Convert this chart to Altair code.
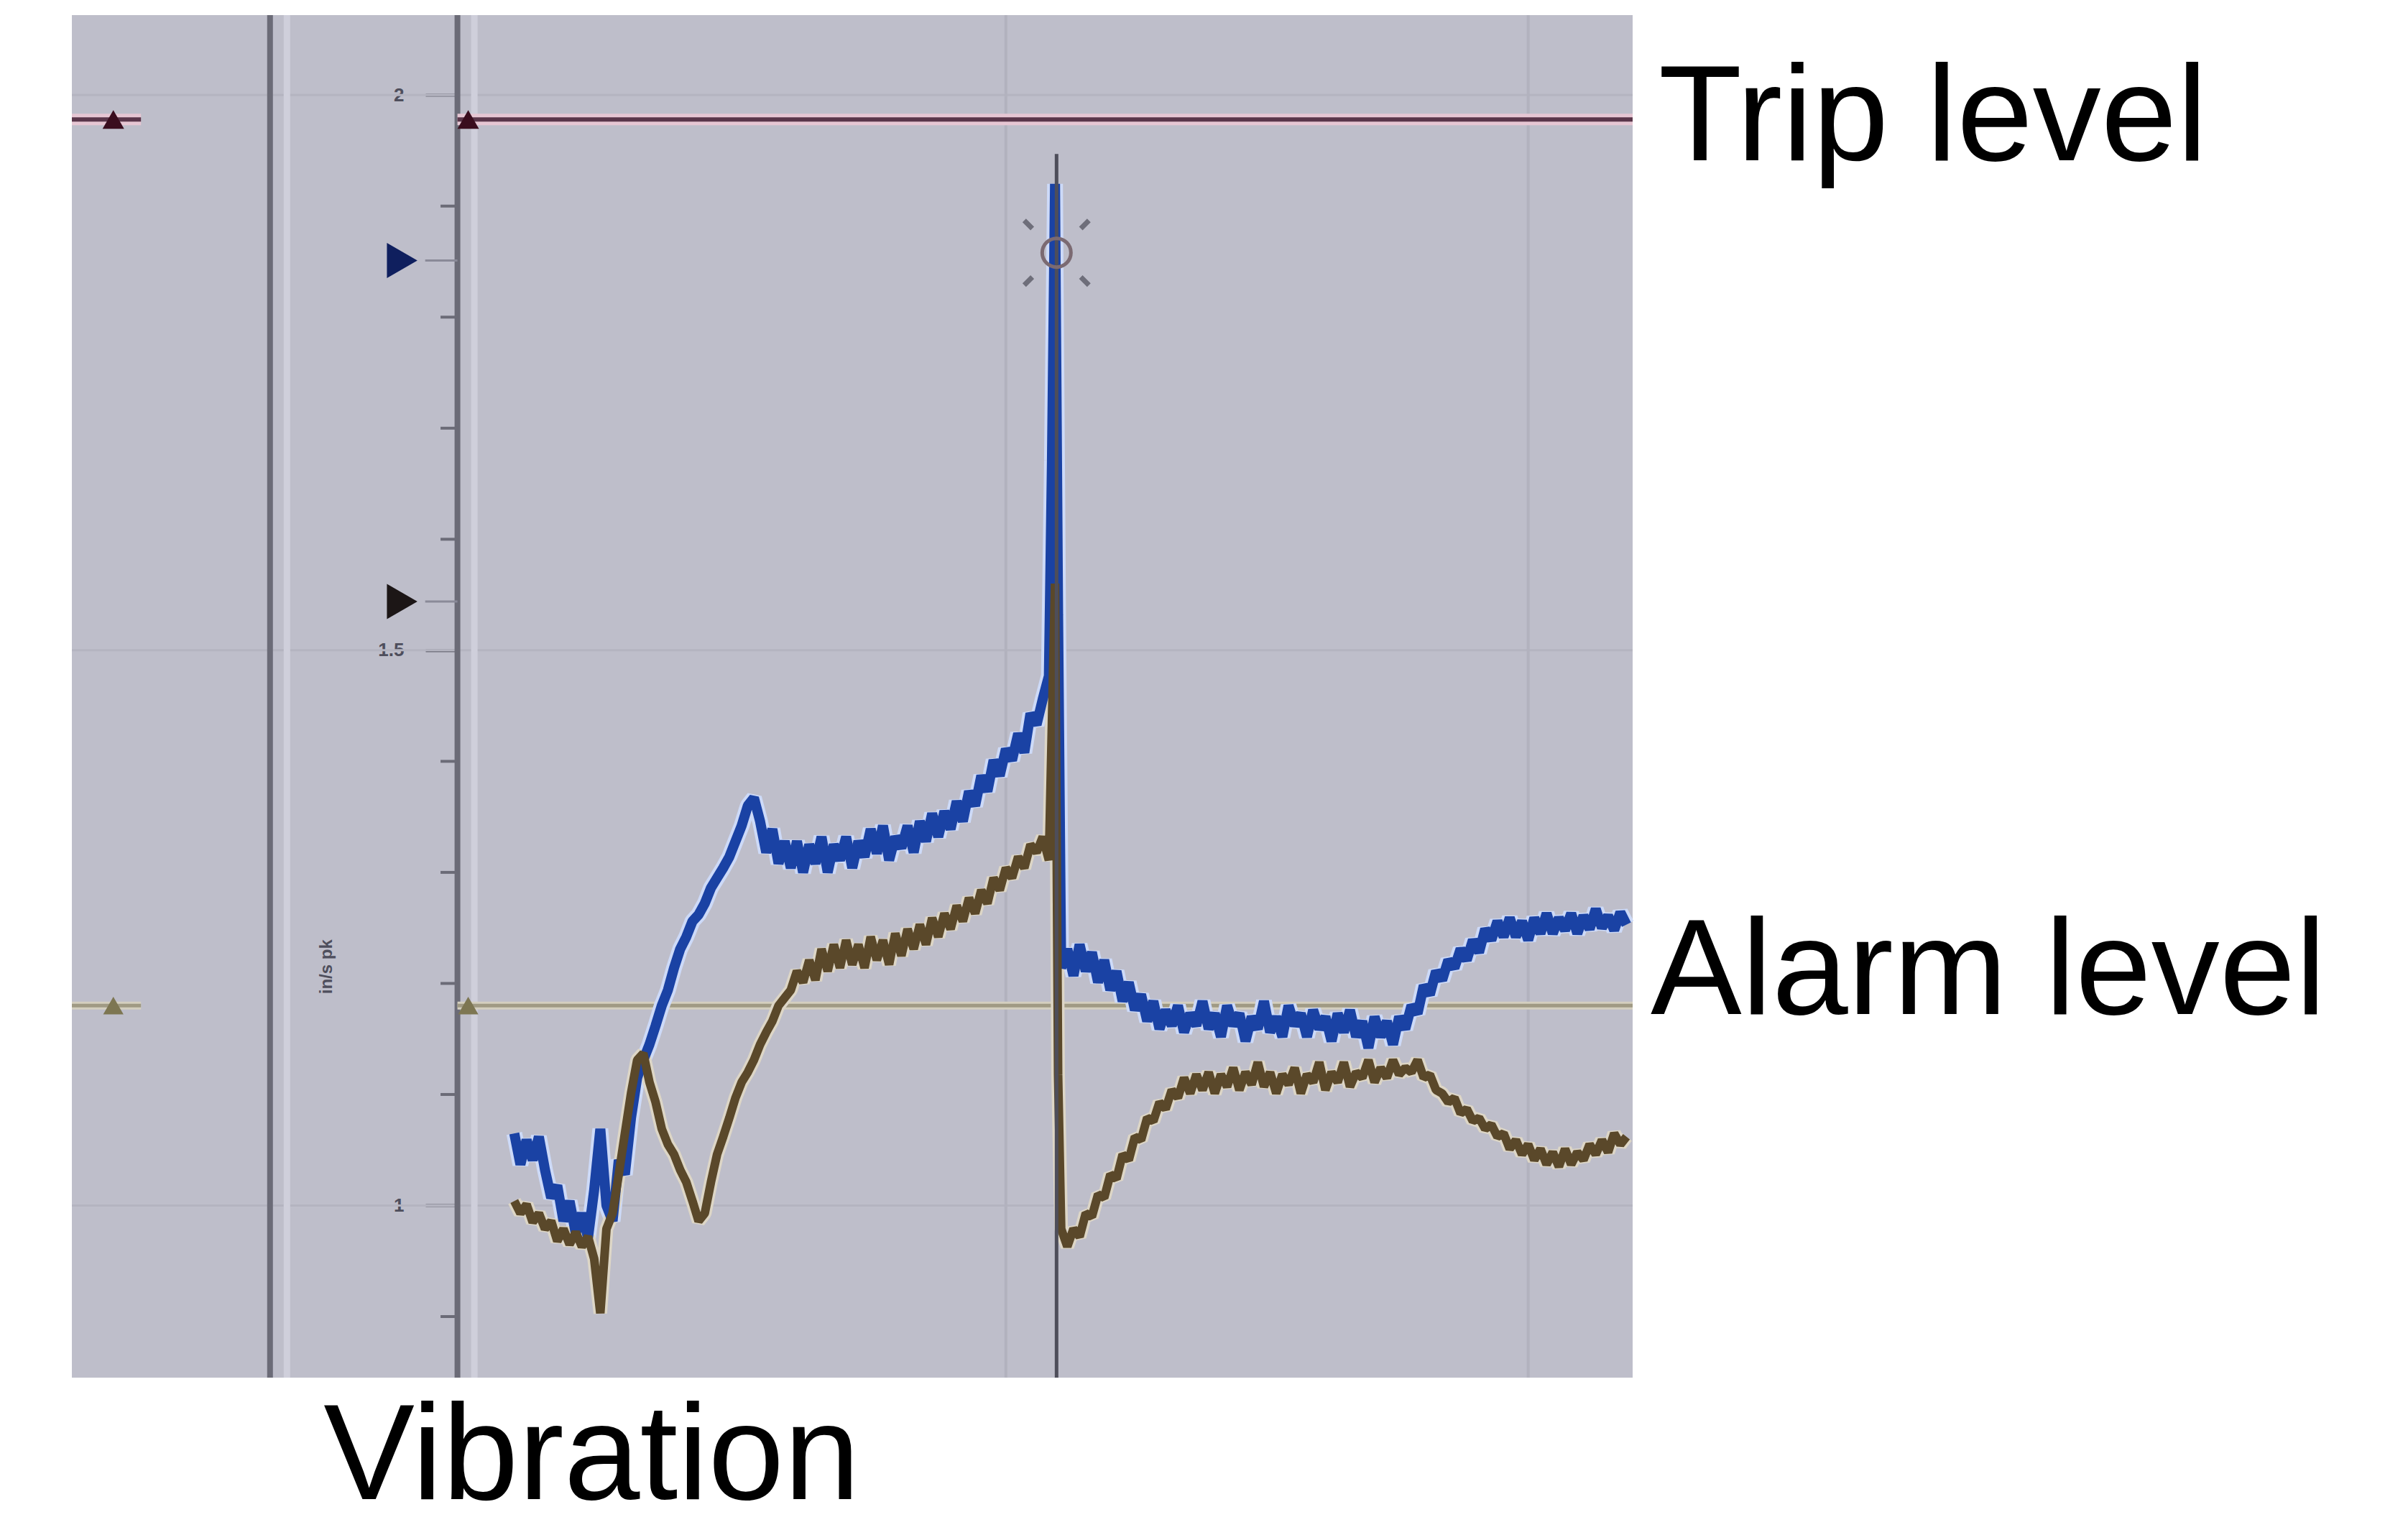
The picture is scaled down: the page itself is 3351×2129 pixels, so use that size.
import altair as alt
import pandas as pd

# ---------------- data ----------------
# sample index along the time axis (the panel spans samples 47 .. 1063)
sample = list(range(335, 683, 4)) + [683, 685, 687, 689, 691] + list(range(695, 1063, 4))

# overall vibration (blue trace)
overall = [
    1.065, 1.037, 1.059, 1.041, 1.062, 1.032, 1.007, 1.018, 0.986, 1.004,
    0.975, 0.993, 0.971, 1.014, 1.069, 1.000, 0.986, 1.041, 1.028, 1.079,
    1.115, 1.131, 1.145, 1.162, 1.180, 1.194, 1.214, 1.231, 1.242, 1.256,
    1.262, 1.272, 1.286, 1.295, 1.304, 1.314, 1.328, 1.342, 1.360, 1.367,
    1.346, 1.318, 1.339, 1.308, 1.328, 1.304, 1.328, 1.300, 1.325, 1.308,
    1.332, 1.300, 1.325, 1.311, 1.332, 1.304, 1.328, 1.314, 1.339, 1.317,
    1.342, 1.311, 1.332, 1.322, 1.342, 1.318, 1.346, 1.328, 1.353, 1.332,
    1.355, 1.339, 1.364, 1.346, 1.373, 1.360, 1.387, 1.373, 1.401, 1.387,
    1.411, 1.401, 1.425, 1.408, 1.443, 1.433, 1.456,
    1.477, 1.671, 1.920, 1.532, 1.214,
    1.231, 1.207, 1.235, 1.211, 1.228, 1.201, 1.221, 1.194, 1.211, 1.184,
    1.201, 1.176, 1.190, 1.166, 1.184, 1.159, 1.176, 1.162, 1.180, 1.156,
    1.173, 1.162, 1.184, 1.159, 1.173, 1.152, 1.180, 1.162, 1.173, 1.148,
    1.170, 1.159, 1.184, 1.156, 1.170, 1.152, 1.180, 1.162, 1.173, 1.152,
    1.176, 1.159, 1.170, 1.148, 1.173, 1.156, 1.176, 1.152, 1.166, 1.142,
    1.170, 1.152, 1.166, 1.145, 1.170, 1.159, 1.180, 1.173, 1.198, 1.190,
    1.211, 1.203, 1.221, 1.214, 1.231, 1.221, 1.239, 1.228, 1.249, 1.239,
    1.256, 1.242, 1.259, 1.242, 1.256, 1.239, 1.259, 1.245, 1.263, 1.245,
    1.259, 1.248, 1.263, 1.245, 1.261, 1.249, 1.267, 1.250, 1.261, 1.248,
    1.264, 1.253,
]

# filtered vibration (brown trace)
filtered = [
    1.004, 0.993, 1.001, 0.985, 0.993, 0.979, 0.986, 0.968, 0.979, 0.965,
    0.976, 0.963, 0.972, 0.952, 0.903, 0.979, 0.993, 1.028, 1.065, 1.101,
    1.131, 1.137, 1.111, 1.093, 1.069, 1.055, 1.046, 1.032, 1.021, 1.004,
    0.986, 0.993, 1.021, 1.046, 1.062, 1.079, 1.097, 1.111, 1.120, 1.131,
    1.145, 1.156, 1.166, 1.180, 1.187, 1.194, 1.211, 1.201, 1.221, 1.203,
    1.231, 1.211, 1.235, 1.214, 1.239, 1.217, 1.235, 1.214, 1.242, 1.221,
    1.239, 1.217, 1.245, 1.225, 1.249, 1.231, 1.253, 1.235, 1.259, 1.242,
    1.263, 1.249, 1.270, 1.256, 1.277, 1.263, 1.284, 1.272, 1.295, 1.284,
    1.304, 1.295, 1.314, 1.304, 1.325, 1.318, 1.332,
    1.311, 1.436, 1.560, 1.118, 0.979,
    0.963, 0.979, 0.972, 0.993, 0.990, 1.010, 1.007, 1.028, 1.024, 1.046,
    1.041, 1.062, 1.059, 1.079, 1.076, 1.093, 1.087, 1.104, 1.097, 1.115,
    1.101, 1.118, 1.104, 1.120, 1.101, 1.118, 1.107, 1.124, 1.104, 1.120,
    1.109, 1.129, 1.107, 1.120, 1.101, 1.118, 1.109, 1.124, 1.101, 1.118,
    1.111, 1.129, 1.104, 1.120, 1.111, 1.129, 1.107, 1.120, 1.115, 1.131,
    1.111, 1.124, 1.115, 1.131, 1.118, 1.124, 1.120, 1.131, 1.115, 1.118,
    1.104, 1.101, 1.093, 1.097, 1.083, 1.087, 1.076, 1.079, 1.069, 1.073,
    1.062, 1.065, 1.051, 1.059, 1.046, 1.055, 1.041, 1.051, 1.037, 1.048,
    1.035, 1.051, 1.037, 1.048, 1.041, 1.055, 1.046, 1.059, 1.048, 1.065,
    1.055, 1.062,
]

assert len(sample) == len(overall) == len(filtered), (len(sample), len(overall), len(filtered))

x_domain = [47, 1063]
y_domain = [0.845, 2.072]

trip_level = 1.978
alarm_level = 1.180
setpoint_levels = [1.851, 1.544]
setpoint_names = ["high", "low"]
major_ticks = [1.0, 1.5, 2.0]
minor_ticks = [0.9, 1.1, 1.2, 1.3, 1.4, 1.6, 1.7, 1.8, 1.9]
grid_values = [1.0, 1.5, 2.0]
grid_samples = [655, 995]
frame_samples = [176, 298]
highlight_samples = [187, 309]
level_seg_start = [47, 298]
level_seg_end = [92, 1063]
level_marker_samples = [74, 305]
setpoint_sample = 262
setpoint_stem = [277, 298]
minor_tick_span = [287, 298]
cursor_sample = 688
cursor_top = 1.947
cursor_marker = 1.858
unit_label = "in/s pk"
unit_label_pos = (213, 1.215)

# ---------------- chart ----------------
W, H = 2172, 1896
FONT = "Liberation Sans"

xscale = alt.Scale(domain=x_domain, nice=False, zero=False)
yscale = alt.Scale(domain=y_domain, nice=False, zero=False)

xaxis = alt.Axis(title="Vibration", labels=False, ticks=False, domain=False, grid=False,
                 titleFontSize=190, titleFont=FONT, titleFontWeight="normal",
                 titleColor="#000000", titleX=723, titleY=168, titleAlign="center",
                 titleBaseline="alphabetic")
yaxis = alt.Axis(values=major_ticks, format="~g", offset=-537, tickSize=45, tickWidth=4,
                 tickColor="#6b6b77", domain=False, grid=False, labelFontSize=26,
                 labelFont=FONT, labelColor="#4e4e5c", labelPadding=30,
                 labelFontWeight="bold", title=None)


def X(f):
    return alt.X(f, type="quantitative", scale=xscale, axis=xaxis)


def Y(f):
    return alt.Y(f, type="quantitative", scale=yscale, axis=yaxis)


grid_h = alt.Chart(pd.DataFrame({"v": grid_values, "x1": x_domain[0], "x2": x_domain[1]})).mark_rule(
    color="#b4b4c0", strokeWidth=3).encode(x=X("x1"), x2=alt.X2("x2"), y=Y("v"))
grid_v = alt.Chart(pd.DataFrame({"s": grid_samples})).mark_rule(
    color="#b2b2be", strokeWidth=4).encode(x=X("s"))
highlight = alt.Chart(pd.DataFrame({"s": highlight_samples})).mark_rule(
    color="#cfcfdb", strokeWidth=9).encode(x=X("s"))
frame = alt.Chart(pd.DataFrame({"s": frame_samples})).mark_rule(
    color="#6b6b77", strokeWidth=8).encode(x=X("s"))
minor = alt.Chart(pd.DataFrame({"v": minor_ticks, "x1": minor_tick_span[0], "x2": minor_tick_span[1]})).mark_rule(
    color="#6b6b77", strokeWidth=4).encode(x=X("x1"), x2=alt.X2("x2"), y=Y("v"))

trip_df = pd.DataFrame({"v": trip_level, "x1": level_seg_start, "x2": level_seg_end})
alarm_df = pd.DataFrame({"v": alarm_level, "x1": level_seg_start, "x2": level_seg_end})
trip_halo = alt.Chart(trip_df).mark_rule(color="#e6c6d3", strokeWidth=16).encode(
    x=X("x1"), x2=alt.X2("x2"), y=Y("v"))
trip_line = alt.Chart(trip_df).mark_rule(color="#5a364a", strokeWidth=6).encode(
    x=X("x1"), x2=alt.X2("x2"), y=Y("v"))
alarm_halo = alt.Chart(alarm_df).mark_rule(color="#d4cfbf", strokeWidth=11).encode(
    x=X("x1"), x2=alt.X2("x2"), y=Y("v"))
alarm_line = alt.Chart(alarm_df).mark_rule(color="#a09a84", strokeWidth=5).encode(
    x=X("x1"), x2=alt.X2("x2"), y=Y("v"))

trip_marks = alt.Chart(pd.DataFrame({"s": level_marker_samples, "v": trip_level})).mark_point(
    shape="triangle-up", filled=True, size=900, color="#3a0d1e", opacity=1).encode(x=X("s"), y=Y("v"))
alarm_marks = alt.Chart(pd.DataFrame({"s": level_marker_samples, "v": alarm_level})).mark_point(
    shape="triangle-up", filled=True, size=800, color="#7d7652", opacity=1).encode(x=X("s"), y=Y("v"))

sp_df = pd.DataFrame({"v": setpoint_levels, "name": setpoint_names,
                      "s": setpoint_sample, "x1": setpoint_stem[0], "x2": setpoint_stem[1]})
sp_stem = alt.Chart(sp_df).mark_rule(color="#8a8a98", strokeWidth=3).encode(
    x=X("x1"), x2=alt.X2("x2"), y=Y("v"))
sp_marks = alt.Chart(sp_df).mark_point(shape="triangle-right", filled=True, size=2400, opacity=1).encode(
    x=X("s"), y=Y("v"),
    color=alt.Color("name:N", scale=alt.Scale(domain=setpoint_names, range=["#0f1f5e", "#1c1616"]),
                    legend=None))

series_df = pd.DataFrame({"s": sample, "overall": overall, "filtered": filtered})
blue_halo = alt.Chart(series_df).mark_line(color="#cddaf8", strokeWidth=22, strokeJoin="bevel").encode(
    x=X("s"), y=Y("overall"))
brown_halo = alt.Chart(series_df).mark_line(color="#ddd6c6", strokeWidth=19, strokeJoin="bevel").encode(
    x=X("s"), y=Y("filtered"))
blue_line = alt.Chart(series_df).mark_line(color="#1a42a4", strokeWidth=14, strokeJoin="bevel").encode(
    x=X("s"), y=Y("overall"))
brown_line = alt.Chart(series_df).mark_line(color="#5a482a", strokeWidth=12, strokeJoin="bevel").encode(
    x=X("s"), y=Y("filtered"))

cursor_df = pd.DataFrame({"s": [cursor_sample], "v1": [y_domain[0]], "v2": [cursor_top], "m": [cursor_marker]})
cursor = alt.Chart(cursor_df).mark_rule(color="#4e4e5a", strokeWidth=5).encode(
    x=X("s"), y=Y("v1"), y2=alt.Y2("v2"))
cursor_ring = alt.Chart(cursor_df).mark_point(shape="circle", filled=False, size=1600,
                                              color="#7b6a72", strokeWidth=5, opacity=1).encode(
    x=X("s"), y=Y("m"))
cursor_dots = alt.Chart(cursor_df).mark_point(
    shape="M-1,-1L-0.75,-0.75M1,-1L0.75,-0.75M-1,1L-0.75,0.75M1,1L0.75,0.75",
    filled=False, size=8100, color="#6e6e7a", strokeWidth=7, opacity=1).encode(
    x=X("s"), y=Y("m"))

unit_text = alt.Chart(pd.DataFrame({"s": [unit_label_pos[0]], "v": [unit_label_pos[1]], "t": [unit_label]})).mark_text(
    angle=270, fontSize=24, font=FONT, fontWeight="bold", color="#4e4e5c").encode(
    x=X("s"), y=Y("v"), text="t:N")

trip_text = alt.Chart(pd.DataFrame({"v": [trip_level], "t": ["Trip level"]})).mark_text(
    align="left", baseline="alphabetic", fontSize=190, font=FONT, color="#000000", dy=57).encode(
    x=alt.value(W + 36), y=Y("v"), text="t:N")
alarm_text = alt.Chart(pd.DataFrame({"v": [alarm_level], "t": ["Alarm level"]})).mark_text(
    align="left", baseline="alphabetic", fontSize=190, font=FONT, color="#000000", dy=12).encode(
    x=alt.value(W + 25), y=Y("v"), text="t:N")

chart = alt.layer(
    grid_h, grid_v, highlight, frame, minor,
    trip_halo, alarm_halo, trip_line, alarm_line, trip_marks, alarm_marks,
    sp_stem, sp_marks,
    blue_halo, brown_halo, blue_line, brown_line,
    cursor, cursor_ring, cursor_dots,
    unit_text, trip_text, alarm_text,
).properties(
    width=W, height=H,
    padding={"left": 100, "top": 21, "right": 1079, "bottom": 212},
    autosize=alt.AutoSizeParams(type="none"),
    background="#ffffff",
).configure_view(fill="#bebeca", stroke=None)

chart.save("out.html", embed_options={"renderer": "svg", "actions": False})
